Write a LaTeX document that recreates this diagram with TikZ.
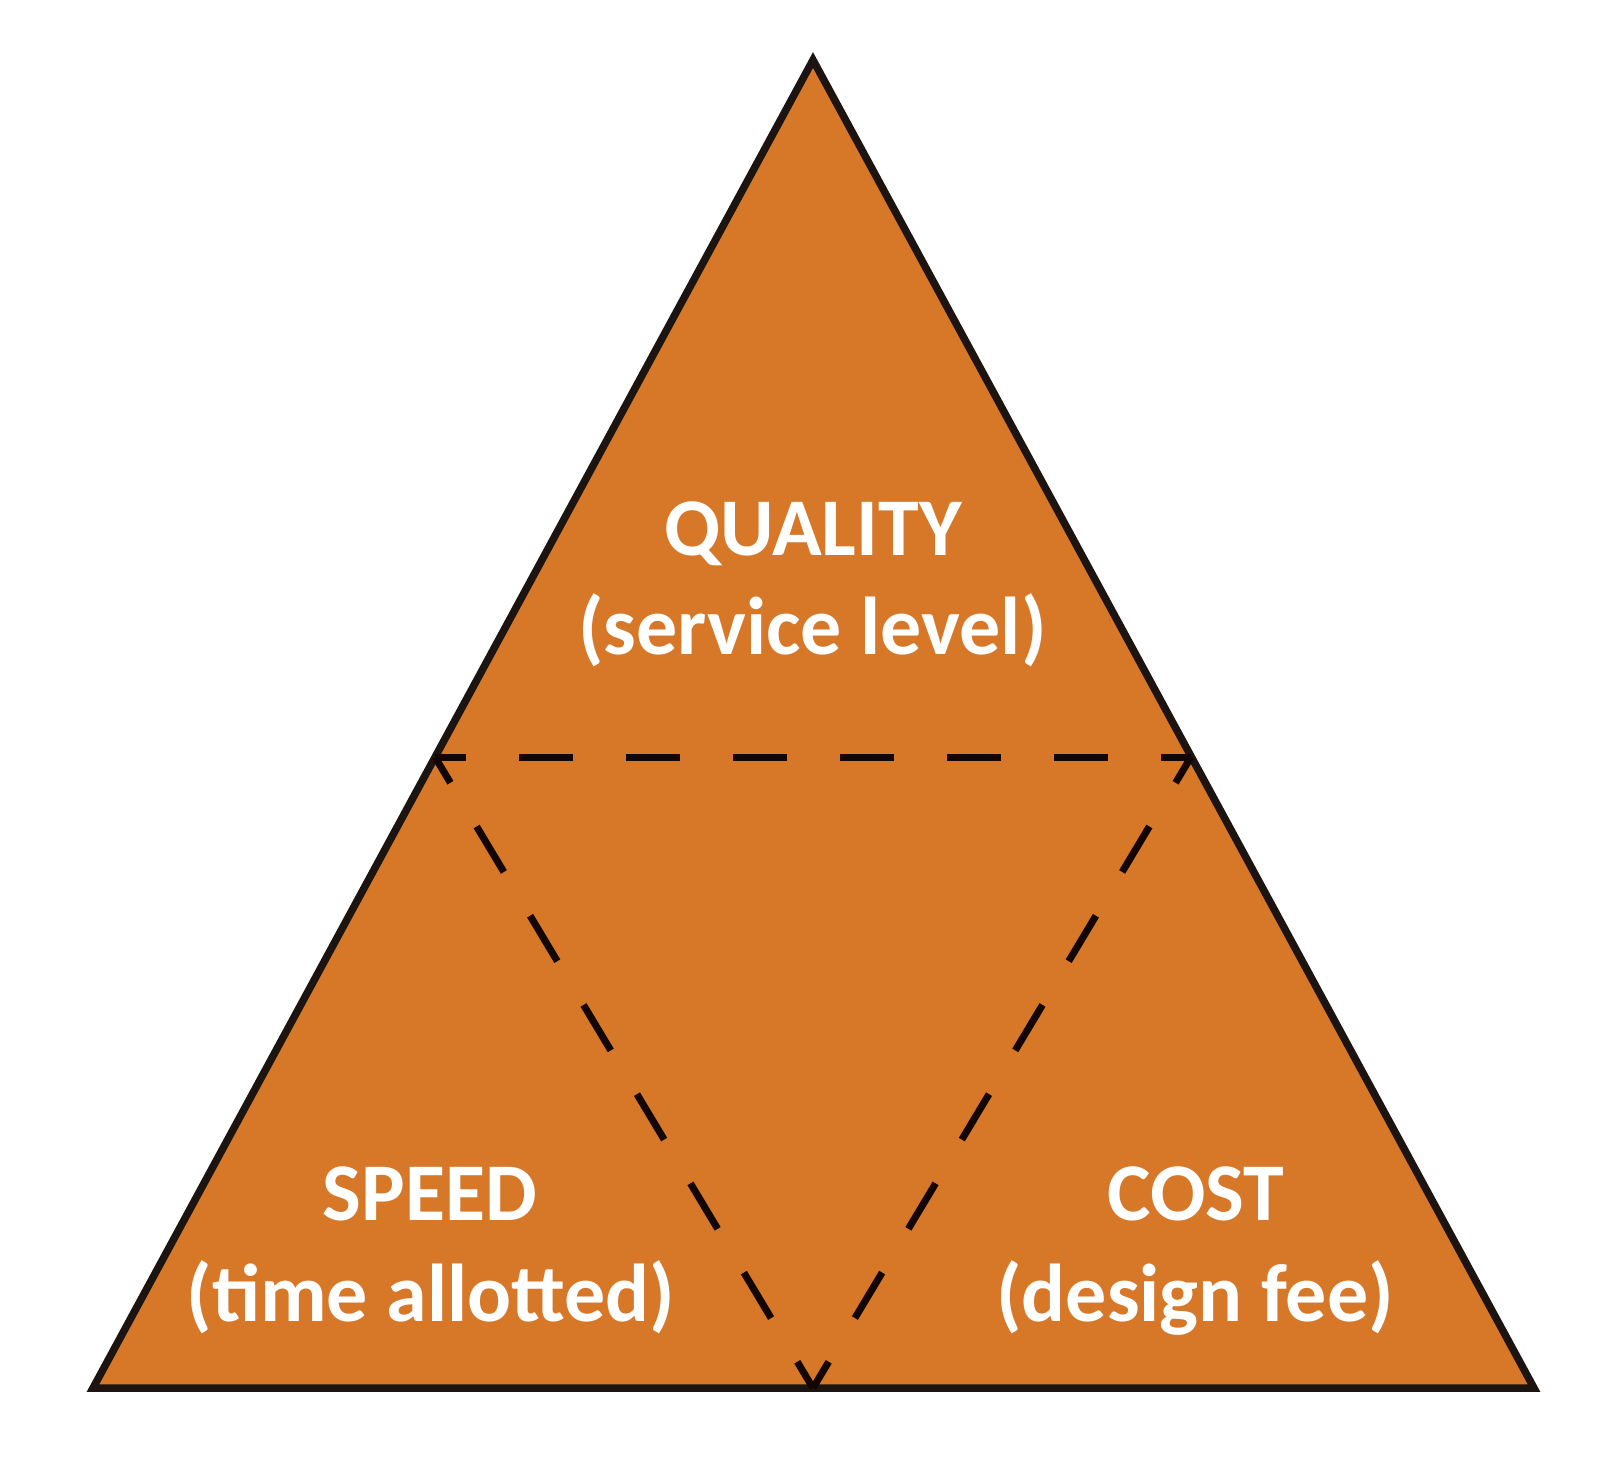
\documentclass[tikz,border=0pt]{standalone}
\usepackage{fontspec}
\setmainfont{Carlito}
\definecolor{fillorange}{HTML}{D77728}
\definecolor{edgedark}{HTML}{1C1410}
\definecolor{dashdark}{HTML}{140505}
\tikzset{
  bigtri/.style={draw=edgedark, line width=7.5pt, fill=fillorange, line join=miter},
  hdash/.style={draw=dashdark, line width=7pt, dash pattern=on 54pt off 53pt, dash phase=23pt},
  ddash/.style={draw=dashdark, line width=7pt, dash pattern=on 53pt off 51pt, dash phase=23pt},
  lbl/.style={text=white, inner sep=0pt, anchor=base, font=\fontsize{82}{98}\selectfont\bfseries}
}
\begin{document}
\begin{tikzpicture}[x=1pt,y=-1pt]
\useasboundingbox (0,0) rectangle (1622,1460);
\coordinate (apex) at (813,60);
\coordinate (bl) at (93,1388);
\coordinate (br) at (1534,1388);
\coordinate (ml) at (435,757);
\coordinate (mr) at (1191,757);
\coordinate (mb) at (813,1388);
\path[bigtri] (apex) -- (br) -- (bl) -- cycle;
\path[hdash] (ml) -- (mr);
\path[ddash] (ml) -- (mb);
\path[ddash] (mr) -- (mb);
\node[lbl] (q1) at (813,555) {QUALITY};
\node[lbl] (q2) at (812.5,654) {(service level)};
\node[lbl] (s1) at (430,1220) {SPEED};
\node[lbl] (s2) at (431,1321) {(time allotted)};
\node[lbl] (c1) at (1196,1220) {COST};
\node[lbl] (c2) at (1195,1321) {(design fee)};
\end{tikzpicture}
\end{document}
